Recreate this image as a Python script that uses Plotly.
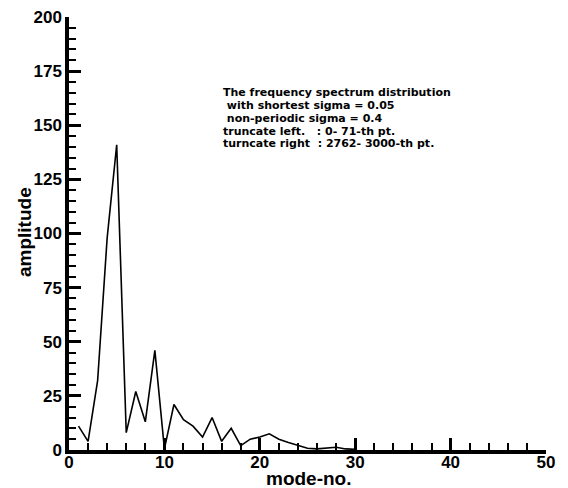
import plotly.graph_objects as go

mode_no = list(range(1, 31))
amplitude = [11, 4, 32, 98, 141, 8, 27, 13, 46, 0.5,
             21, 14, 11, 6, 15, 4, 10, 2, 5, 6,
             7.5, 5, 3.5, 2, 0.8, 0.5, 0.8, 1.3, 0.5, 0.3]

annotation_lines = [
    "The frequency spectrum distribution",
    " with shortest sigma = 0.05",
    " non-periodic sigma = 0.4",
    "truncate left.   : 0- 71-th pt.",
    "turncate right  : 2762- 3000-th pt.",
]

FONT = "Liberation Sans, Arial, sans-serif"
NOTE_FONT = "DejaVu Sans, sans-serif"

# plot-area geometry in pixels
W, H = 568, 488
L, R, T, B = 69, 22, 17, 38
PH = H - T - B
PW = W - L - R


def py(pix):
    return (H - B - pix) / PH


def px(pix):
    return (pix - L) / PW


fig = go.Figure()
fig.add_trace(go.Scatter(x=mode_no, y=amplitude, mode="lines",
                         line=dict(color="black", width=1.6),
                         showlegend=False, hoverinfo="skip"))

for i, line in enumerate(annotation_lines):
    fig.add_annotation(
        x=px(221), y=py(93 + 12.7 * i), xref="paper", yref="paper",
        text=line.replace(" ", "&nbsp;"),
        showarrow=False, align="left", xanchor="left", yanchor="middle",
        font=dict(family=NOTE_FONT, size=11, color="black", weight="bold"),
    )

# axis titles
fig.add_annotation(x=px(309), y=py(478), xref="paper", yref="paper",
                   text="mode-no.", showarrow=False, xanchor="center", yanchor="middle",
                   font=dict(family=FONT, size=19, color="black", weight="bold"))
fig.add_annotation(x=px(24), y=py(232), xref="paper", yref="paper",
                   text="amplitude", showarrow=False, textangle=-90,
                   xanchor="center", yanchor="middle",
                   font=dict(family=FONT, size=19, color="black", weight="bold"))

fig.update_layout(
    width=W, height=H,
    margin=dict(l=L, r=R, t=T, b=B),
    paper_bgcolor="white", plot_bgcolor="white",
    font=dict(family=FONT, color="black", weight="bold"),
    xaxis=dict(
        range=[0, 50], tickmode="linear", tick0=0, dtick=10,
        ticks="inside", ticklen=12, tickwidth=3, tickcolor="black",
        showline=True, linewidth=3.5, linecolor="black", mirror=False,
        showgrid=False, zeroline=False, automargin=False,
        ticklabelstandoff=-6,
        tickfont=dict(family=FONT, size=17, weight="bold", color="black"),
        minor=dict(dtick=2, ticks="inside", ticklen=7, tickwidth=1.8, tickcolor="black", showgrid=False),
    ),
    yaxis=dict(
        range=[0, 200], tickmode="linear", tick0=0, dtick=25,
        ticks="inside", ticklen=12, tickwidth=3, tickcolor="black",
        showline=True, linewidth=3.5, linecolor="black", mirror=False,
        showgrid=False, zeroline=False, automargin=False,
        tickfont=dict(family=FONT, size=17, weight="bold", color="black"),
        minor=dict(dtick=5, ticks="inside", ticklen=7, tickwidth=1.8, tickcolor="black", showgrid=False),
    ),
)

fig.write_html("out.html")
